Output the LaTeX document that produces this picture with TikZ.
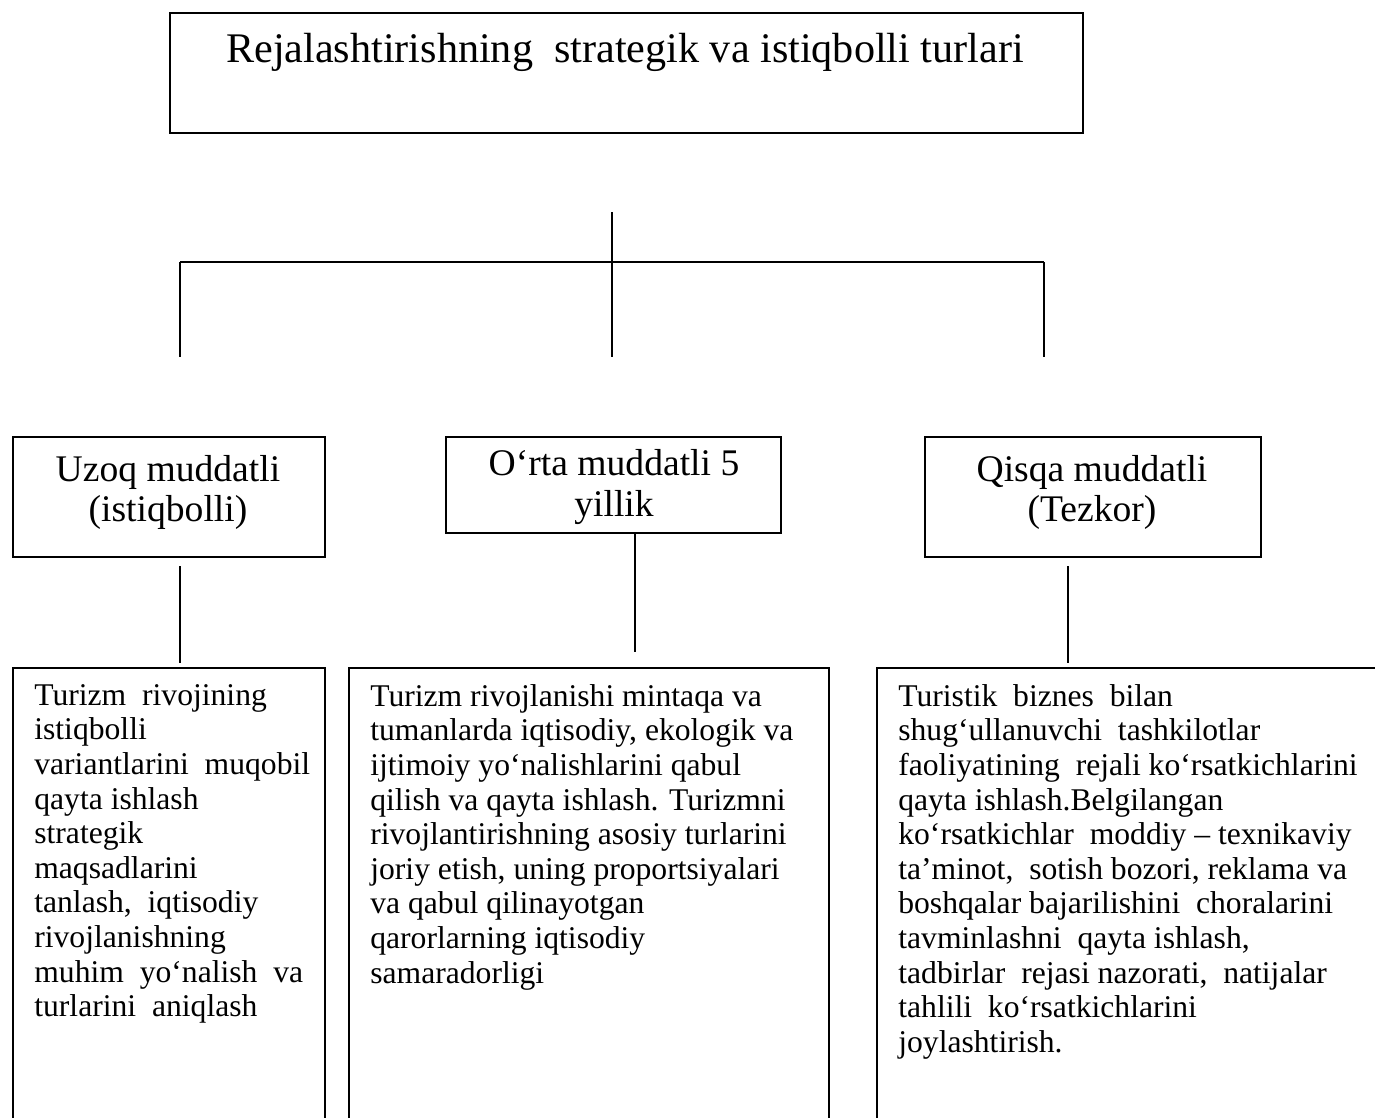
\documentclass[tikz,border=0pt]{standalone}
\usepackage{fontspec}
\setmainfont{Liberation Serif}
\usetikzlibrary{positioning}

\begin{document}
\begin{tikzpicture}[x=0.02cm, y=-0.02cm,
		box/.style={draw, line width=1.2pt, inner sep=0pt, anchor=north west},
		link/.style={line width=0.8pt},
		midtext/.style={align=center, inner sep=0pt, font=\fontsize{21.4}{22.8}\selectfont},
		bodytext/.style={align=left, inner sep=0pt, font=\fontsize{18}{19.7}\selectfont}]
				\clip (0,0) rectangle (1375,1117);
				% title
				\node[box, minimum width=18.26cm, minimum height=2.4cm] (title) at (169,12) {};
				\node[midtext, font=\fontsize{24}{26}\selectfont] (titletext) at (625,52) {Rejalashtirishning\ \ strategik va istiqbolli turlari};
				% three kinds
				\node[box, minimum width=6.24cm, minimum height=2.4cm] (longbox) at (12,436) {};
				\node[box, minimum width=6.7cm, minimum height=1.92cm] (midbox) at (445,436) {};
				\node[box, minimum width=6.72cm, minimum height=2.4cm] (shortbox) at (924,436) {};
				\node[midtext] (longtext) at (168,492) {Uzoq muddatli\\(istiqbolli)};
				\node[midtext] (midtext) at (614,487) {O‘rta muddatli 5\\yillik};
				\node[midtext] (shorttext) at (1092,492) {Qisqa muddatli\\(Tezkor)};
				% contents
				\node[box, minimum width=6.24cm, minimum height=9.6cm] (longdesc) at (12,667) {};
				\node[box, minimum width=9.6cm, minimum height=9.6cm] (middesc) at (348,667) {};
				\node[box, minimum width=10.8cm, minimum height=9.6cm] (shortdesc) at (876,667) {};
				\node[bodytext, below right=0.34cm and 0.44cm of longdesc.north west] (longitems) {Turizm\ \ rivojining\\istiqbolli\\variantlarini\ \ muqobil\\qayta\ ishlash\\strategik\\maqsadlarini\\tanlash,\ \ iqtisodiy\\rivojlanishning\\muhim\ \ yo‘nalish\ \ va\\turlarini\ \ aniqlash};
				\node[bodytext, below right=0.34cm and 0.44cm of middesc.north west] (miditems) {Turizm rivojlanishi mintaqa va\\tumanlarda iqtisodiy, ekologik va\\ijtimoiy yo‘nalishlarini qabul\\qilish va qayta ishlash. Turizmni\\rivojlantirishning asosiy turlarini\\joriy etish, uning proportsiyalari\\va qabul qilinayotgan\\qarorlarning iqtisodiy\\samaradorligi};
				\node[bodytext, below right=0.34cm and 0.44cm of shortdesc.north west] (shortitems) {Turistik\ \ biznes\ \ bilan\\shug‘ullanuvchi\ \ tashkilotlar\\faoliyatining\ \ rejali ko‘rsatkichlarini\\qayta\ ishlash.Belgilangan\\ko‘rsatkichlar\ \ moddiy – texnikaviy\\ta’minot,\ \ sotish bozori, reklama va\\boshqalar bajarilishini\ \ choralarini\\tavminlashni\ \ qayta ishlash,\\tadbirlar\ \ rejasi nazorati,\ \ natijalar\\tahlili\ \ ko‘rsatkichlarini\\joylashtirish.};
				% connectors
				\coordinate (stem) at (612,212);
				\coordinate (fork) at (612,262);
				\coordinate (forkl) at (180,262);
				\coordinate (forkr) at (1044,262);
				\coordinate (endl) at (180,357);
				\coordinate (endm) at (612,357);
				\coordinate (endr) at (1044,357);
				\draw[link] (stem) -- (fork);
				\draw[link] (forkl) -- (forkr);
				\draw[link] (forkl) -- (endl);
				\draw[link] (fork) -- (endm);
				\draw[link] (forkr) -- (endr);
				\coordinate (longa) at (180,566);
				\coordinate (longb) at (180,663);
				\coordinate (mida) at (635,532);
				\coordinate (midb) at (635,652);
				\coordinate (shorta) at (1068,566);
				\coordinate (shortb) at (1068,663);
				\draw[link] (longa) -- (longb);
				\draw[link] (mida) -- (midb);
				\draw[link] (shorta) -- (shortb);
			\end{tikzpicture}
\end{document}
